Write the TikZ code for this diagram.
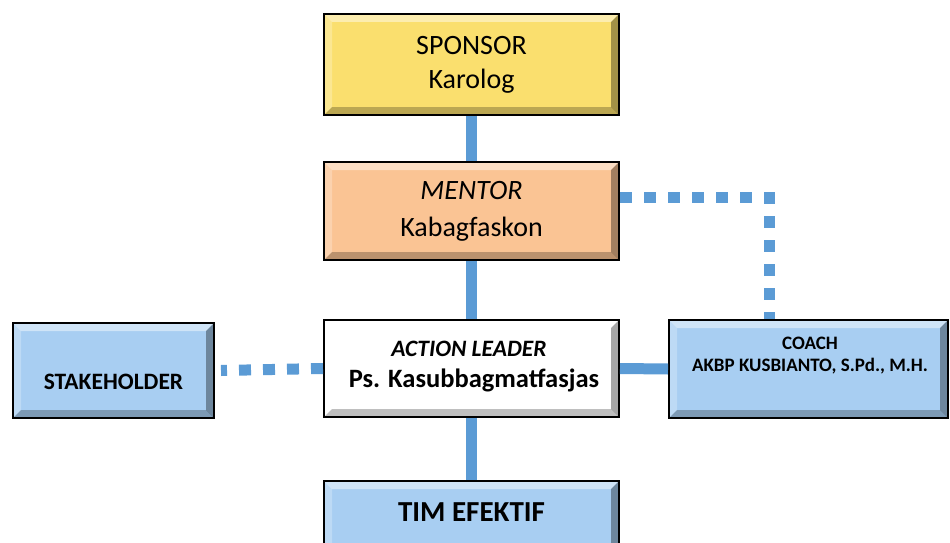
\documentclass[tikz,border=0pt]{standalone}
\usepackage{fontspec}
\setmainfont{Carlito}
\usetikzlibrary{calc}

\definecolor{sponsorfill}{HTML}{FADF6E}
\definecolor{mentorfill}{HTML}{FAC494}
\definecolor{bluefill}{HTML}{A8CEF2}
\definecolor{linkblue}{HTML}{5B9BD5}

\tikzset{
  bevelbox/.style={
    rectangle, draw=black, line width=2pt, fill=#1, inner sep=0pt,
    path picture={
      \coordinate (pnw) at (path picture bounding box.north west);
      \coordinate (pne) at (path picture bounding box.north east);
      \coordinate (psw) at (path picture bounding box.south west);
      \coordinate (pse) at (path picture bounding box.south east);
      % top facet, light
      \fill[white, opacity=.45] (pnw) -- (pne) -- ($(pne)+(-8pt,-8pt)$) -- ($(pnw)+(8pt,-8pt)$) -- cycle;
      % left facet, light
      \fill[white, opacity=.25] (pnw) -- ($(pnw)+(8pt,-8pt)$) -- ($(psw)+(8pt,8pt)$) -- (psw) -- cycle;
      % bottom facet, dark
      \fill[black, opacity=.25] (psw) -- (pse) -- ($(pse)+(-8pt,8pt)$) -- ($(psw)+(8pt,8pt)$) -- cycle;
      % right facet, dark
      \fill[black, opacity=.35] (pne) -- ($(pne)+(-8pt,-8pt)$) -- ($(pse)+(-8pt,8pt)$) -- (pse) -- cycle;
    }},
  solidlink/.style={draw=linkblue, line width=11pt},
  dotlink/.style={draw=linkblue, line width=11pt, dash pattern=on 12pt off 12pt},
  label/.style={align=center, inner sep=0pt, text=black}
}

\begin{document}
\begin{tikzpicture}[x=1pt, y=-1pt]
  \useasboundingbox (0,0) rectangle (950,543);
  \clip (0,0) rectangle (950,543);

  \coordinate (bend) at (769,197);

  % boxes
  \node[bevelbox=sponsorfill, minimum width=295pt, minimum height=101pt] (sponsor) at (471.5,64.5) {};
  \node[bevelbox=mentorfill, minimum width=295pt, minimum height=98pt] (mentor) at (471.5,211) {};
  \node[bevelbox=white, minimum width=295pt, minimum height=97pt] (leader) at (471.5,368.5) {};
  \node[bevelbox=bluefill, minimum width=201pt, minimum height=95pt] (stake) at (113.5,370.5) {};
  \node[bevelbox=bluefill, minimum width=279pt, minimum height=98pt] (coach) at (808.5,369) {};
  \node[bevelbox=bluefill, minimum width=295pt, minimum height=100pt] (team) at (471.5,531) {};

  % links
  \draw[solidlink] (sponsor.south) -- (mentor.north);
  \draw[solidlink] (mentor.south) -- (leader.north);
  \draw[solidlink] (leader.south) -- (team.north);
  \draw[solidlink] (leader.east) -- (coach.west);
  \draw[dotlink, dash phase=6pt] ([xshift=6pt]stake.east) -- (leader.west);
  \draw[dotlink] (mentor.east |- bend) -- (bend) -- (bend |- coach.north);

  % texts
  \node[label, font=\fontsize{28}{34}\selectfont] (sponsorT) at (sponsor.center) {SPONSOR\\Karolog};
  \node[label, font=\fontsize{28}{37}\selectfont] (mentorT) at (mentor.center) {\textit{MENTOR}\\Kabagfaskon};
  \node[label, font=\bfseries\itshape\fontsize{23.5}{28}\selectfont] (leaderT1) at (469,349) {ACTION LEADER};
  \node[label, font=\bfseries\fontsize{26.5}{30}\selectfont] (leaderT2) at (474,380) {Ps. Kasubbagmatfasjas};
  \node[label, font=\bfseries\fontsize{23.5}{28}\selectfont] (stakeT) at (113.5,382) {STAKEHOLDER};
  \node[label, font=\bfseries\fontsize{19}{22}\selectfont] (coachT) at (810,356) {COACH\\AKBP KUSBIANTO, S.Pd., M.H.};
  \node[label, font=\bfseries\fontsize{29}{34}\selectfont] (teamT) at (471.5,512) {TIM EFEKTIF};
\end{tikzpicture}
\end{document}
